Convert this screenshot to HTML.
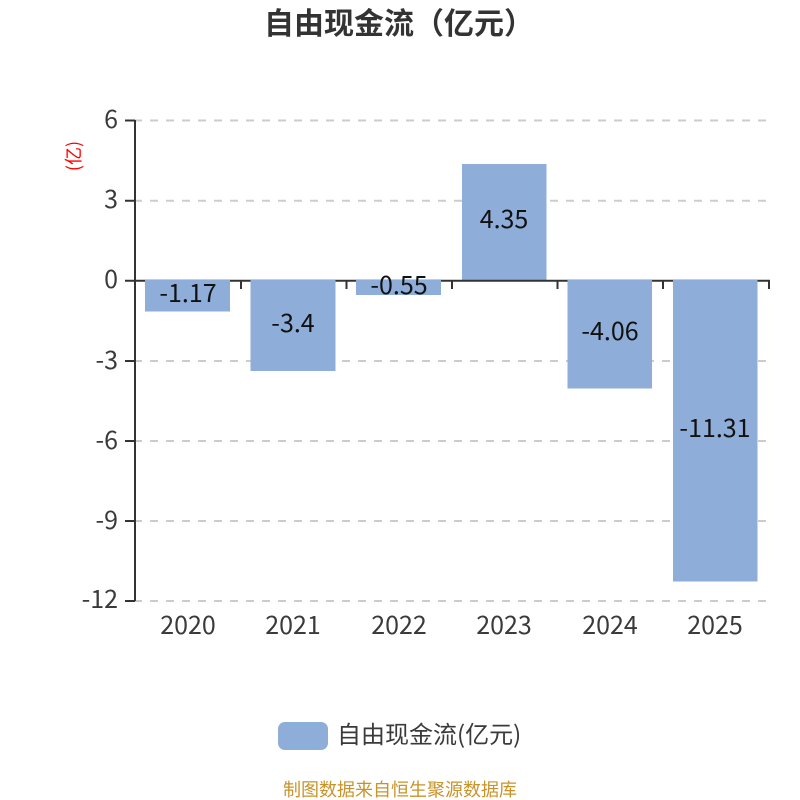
<!DOCTYPE html>
<html>
<head>
<meta charset="utf-8">
<style>
html,body{margin:0;padding:0;background:#fff;}
svg{display:block;}
text{font-family:"Noto Sans CJK SC","Liberation Sans",sans-serif;}
.y{font-size:25px;fill:#3a3a3a;text-anchor:end;}
.x{font-size:25px;fill:#3a3a3a;text-anchor:middle;}
.v{font-size:25px;fill:#111;text-anchor:middle;}
</style>
</head>
<body>
<svg width="800" height="800" viewBox="0 0 800 800" xmlns="http://www.w3.org/2000/svg">
<rect width="800" height="800" fill="#fff"/>
<text x="399" y="34" font-size="30" font-weight="700" fill="#333" text-anchor="middle">自由现金流（亿元）</text>

<g stroke="#ccc" stroke-width="2" stroke-dasharray="8 8" fill="none">
<path d="M134 120.500H770"/>
<path d="M134 200.700H770"/>
<path d="M134 361H770"/>
<path d="M134 441H770"/>
<path d="M134 521H770"/>
<path d="M134 601H770"/>
</g>

<g fill="#8eadd9">
<rect x="145" y="281" width="85" height="30.500"/>
<rect x="250.500" y="281" width="85" height="90"/>
<rect x="356" y="281" width="85" height="14"/>
<rect x="462" y="164" width="84.500" height="117"/>
<rect x="567.500" y="281" width="84.500" height="107.500"/>
<rect x="673" y="281" width="84.500" height="300.500"/>
</g>

<g stroke="#333" stroke-width="2" fill="none">
<path d="M135 120V601"/>
<path d="M125 120.500H135M125 200.700H135M125 280.800H135M125 361H135M125 441H135M125 521H135M125 601H135"/>
<path d="M135 280.800H770"/>
<path d="M241 281V289M346.500 281V289M452 281V289M557.500 281V289M663 281V289M769 281V289"/>
</g>
<g fill="#8eadd9">
<rect x="145" y="280" width="85" height="2"/>
<rect x="250.500" y="280" width="85" height="2"/>
<rect x="356" y="280" width="85" height="2"/>
<rect x="567.500" y="280" width="84.500" height="2"/>
<rect x="673" y="280" width="84.500" height="2"/>
</g>

<text class="y" x="118" y="128">6</text>
<text class="y" x="118" y="208">3</text>
<text class="y" x="118" y="288">0</text>
<text class="y" x="118" y="369">-3</text>
<text class="y" x="118" y="449">-6</text>
<text class="y" x="118" y="529">-9</text>
<text class="y" x="118" y="608">-12</text>

<text x="0" y="0" font-size="18" fill="#f00" text-anchor="middle" transform="translate(73 156) rotate(-90)" dominant-baseline="central">(亿)</text>

<text class="x" x="188" y="634">2020</text>
<text class="x" x="293" y="634">2021</text>
<text class="x" x="399" y="634">2022</text>
<text class="x" x="504" y="634">2023</text>
<text class="x" x="610" y="634">2024</text>
<text class="x" x="715" y="634">2025</text>

<text class="v" x="188" y="302">-1.17</text>
<text class="v" x="293" y="332">-3.4</text>
<text class="v" x="399" y="294">-0.55</text>
<text class="v" x="504" y="228">4.35</text>
<text class="v" x="610" y="340">-4.06</text>
<text class="v" x="715" y="437">-11.31</text>

<rect x="278" y="722" width="50" height="28" rx="7" ry="7" fill="#8eadd9"/>
<text x="337" y="743" font-size="24" fill="#3a3a3a">自由现金流(亿元)</text>
<text x="400" y="796" font-size="18" fill="#c8932a" text-anchor="middle">制图数据来自恒生聚源数据库</text>
</svg>
</body>
</html>
